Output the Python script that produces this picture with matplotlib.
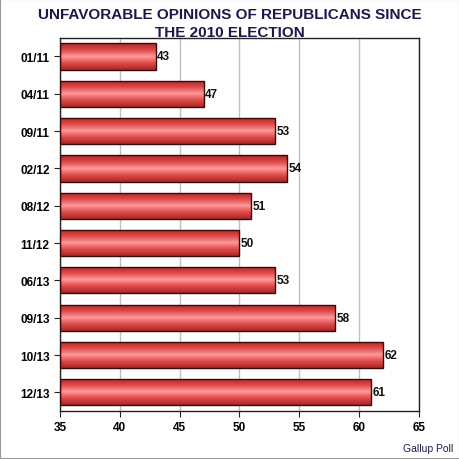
import numpy as np
import matplotlib
matplotlib.use("Agg")
import matplotlib.pyplot as plt
from matplotlib.colors import LinearSegmentedColormap
from matplotlib.patches import Rectangle

periods = ["01/11", "04/11", "09/11", "02/12", "08/12", "11/12", "06/13", "09/13", "10/13", "12/13"]
unfavorable = [43, 47, 53, 54, 51, 50, 53, 58, 62, 61]

plt.rcParams['font.family'] = ['Liberation Sans', 'DejaVu Sans']

fig = plt.figure(figsize=(4.6, 4.6), dpi=100)
ax = fig.add_axes([0.1304, 0.1043, 0.7804, 0.8113])

# cylinder-like shading for the bars
shade = LinearSegmentedColormap.from_list(
    "bar", ["#a82828", "#e04848", "#ff9a9a", "#e04848", "#a82828"])
grad = np.linspace(0, 1, 64).reshape(-1, 1)

y = np.arange(len(periods))
h = 0.7
for yi, val in zip(y, unfavorable):
    rect = Rectangle((35, yi - h / 2), val - 35, h, facecolor="none",
                     edgecolor="#3a0a0a", linewidth=1.0, zorder=3)
    ax.add_patch(rect)
    im = ax.imshow(grad, cmap=shade, aspect="auto",
                   extent=(35, val, yi + h / 2, yi - h / 2), zorder=2)
    im.set_clip_path(rect)
    ax.text(val + 0.12, yi, str(val), va="center", ha="left",
            fontsize=8.5, fontweight="bold", color="#111111", zorder=4)

ax.set_xlim(35, 65)
ax.set_ylim(len(periods) - 0.5, -0.5)
ax.set_xticks(range(35, 66, 5))
ax.set_yticks(y)
ax.set_yticklabels(periods)
ax.tick_params(axis="both", labelsize=8.5, length=4, color="#222222")
for lab in ax.get_xticklabels() + ax.get_yticklabels():
    lab.set_fontweight("bold")
ax.xaxis.grid(True, color="#c0c0c0", linewidth=1.0, zorder=0)
ax.set_axisbelow(True)
for sp in ax.spines.values():
    sp.set_color("#222222")
    sp.set_linewidth(1.0)

fig.text(0.5, 0.983, "UNFAVORABLE OPINIONS OF REPUBLICANS SINCE\nTHE 2010 ELECTION",
         ha="center", va="top", fontsize=11, fontweight="semibold", color="#1a1a4a",
         linespacing=1.4)
fig.text(0.985, 0.012, "Gallup Poll", ha="right", va="bottom", fontsize=7.5, color="#1a1a4a")

border = Rectangle((0, 0), 1, 1, transform=fig.transFigure, fill=False,
                   edgecolor="#999999", linewidth=1.5)
fig.patches.append(border)

fig.savefig("out.png", dpi=100)
